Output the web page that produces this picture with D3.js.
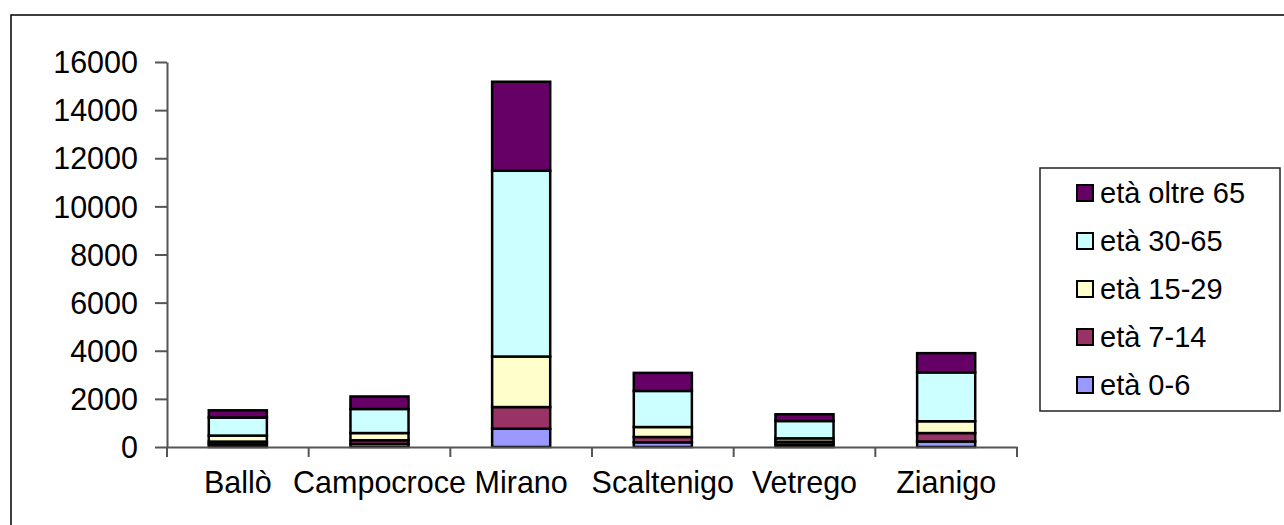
<!DOCTYPE html>
<html>
<head>
<meta charset="utf-8">
<script src="https://cdn.jsdelivr.net/npm/d3@7/dist/d3.min.js"></script>
<style>
  html, body { margin: 0; padding: 0; background: #fff; }
  svg { display: block; }
  text { font-family: "Liberation Sans", Arial, sans-serif; fill: #000; }
</style>
</head>
<body>
<svg id="chart" width="1284" height="525"></svg>
<script>
const categories = ["Ballò", "Campocroce", "Mirano", "Scaltenigo", "Vetrego", "Zianigo"];
const seriesNames = ["età 0-6", "età 7-14", "età 15-29", "età 30-65", "età oltre 65"];
const age0_6    = [110, 130, 760, 195, 100, 230];
const age7_14   = [115, 150, 900, 220, 120, 350];
const age15_29  = [250, 300, 2100, 415, 140, 490];
const age30_65  = [750, 1000, 7720, 1500, 720, 2030];
const ageOver65 = [300, 520, 3700, 750, 280, 800];
const yTicks = [0, 2000, 4000, 6000, 8000, 10000, 12000, 14000, 16000];
const colors = ["#9999FF", "#993366", "#FFFFCC", "#CCFFFF", "#660066"];

const seriesValues = [age0_6, age7_14, age15_29, age30_65, ageOver65];
const table = categories.map((c, i) => {
  const row = { cat: c };
  seriesNames.forEach((s, j) => row[s] = seriesValues[j][i]);
  return row;
});

const svg = d3.select("#chart");

// outer chart border (right/bottom edges fall outside the picture)
svg.append("rect")
  .attr("x", 11).attr("y", 15).attr("width", 1300).attr("height", 530)
  .attr("fill", "#fff").attr("stroke", "#000").attr("stroke-width", 1.5);

const x = d3.scaleBand().domain(categories).range([167, 1017]).padding(0);
const y = d3.scaleLinear().domain([0, 16000]).range([447, 62]);
const barFrac = 0.41;

const stack = d3.stack().keys(seriesNames)(table);

const layers = svg.append("g").selectAll("g")
  .data(stack).join("g")
  .attr("fill", (d, i) => colors[i]);

layers.selectAll("rect")
  .data(d => d)
  .join("rect")
  .attr("x", d => x(d.data.cat) + x.bandwidth() * (1 - barFrac) / 2)
  .attr("width", x.bandwidth() * barFrac)
  .attr("y", d => y(d[1]))
  .attr("height", d => y(d[0]) - y(d[1]))
  .attr("stroke", "#000")
  .attr("stroke-width", 2.5);

// Y axis
const yAxis = svg.append("g")
  .attr("transform", "translate(167,0)")
  .call(d3.axisLeft(y).tickValues(yTicks).tickFormat(d3.format("d"))
    .tickSize(12).tickPadding(17).tickSizeOuter(0));
yAxis.select(".domain").attr("stroke", "#555").attr("stroke-width", 2);
yAxis.selectAll(".tick line").attr("stroke", "#555").attr("stroke-width", 2);
yAxis.selectAll(".tick text")
  .style("font-family", '"Liberation Sans", Arial, sans-serif')
  .style("font-size", "30.5px").attr("fill", "#000").attr("dy", "0.35em");

// X axis
const xAxis = svg.append("g")
  .attr("transform", "translate(0,447)")
  .call(d3.axisBottom(x).tickSize(0).tickPadding(24));
xAxis.select(".domain").attr("stroke", "#555").attr("stroke-width", 2);
xAxis.selectAll(".tick text")
  .style("font-family", '"Liberation Sans", Arial, sans-serif')
  .style("font-size", "30.5px").attr("fill", "#000");
// category boundary ticks
const bounds = categories.map(c => x(c)).concat([x(categories[categories.length - 1]) + x.bandwidth()]);
xAxis.selectAll(".bound").data(bounds).join("line")
  .attr("x1", d => d).attr("x2", d => d)
  .attr("y1", 0).attr("y2", 10)
  .attr("stroke", "#555").attr("stroke-width", 2);

// Legend
const legend = svg.append("g");
legend.append("rect")
  .attr("x", 1040).attr("y", 168).attr("width", 240).attr("height", 243)
  .attr("fill", "#fff").attr("stroke", "#222").attr("stroke-width", 1.5);
const legendOrder = seriesNames.map((s, i) => ({ s, c: colors[i] })).reverse();
const ly = d3.scalePoint().domain(legendOrder.map(d => d.s)).range([193, 385]);
const items = legend.selectAll(".item").data(legendOrder).join("g")
  .attr("transform", d => `translate(0,${ly(d.s)})`);
items.append("rect")
  .attr("x", 1077).attr("y", -8).attr("width", 16).attr("height", 16)
  .attr("fill", d => d.c).attr("stroke", "#000").attr("stroke-width", 2);
items.append("text")
  .attr("x", 1100).attr("dy", "0.35em")
  .style("font-size", "29px")
  .text(d => d.s);
</script>
</body>
</html>
